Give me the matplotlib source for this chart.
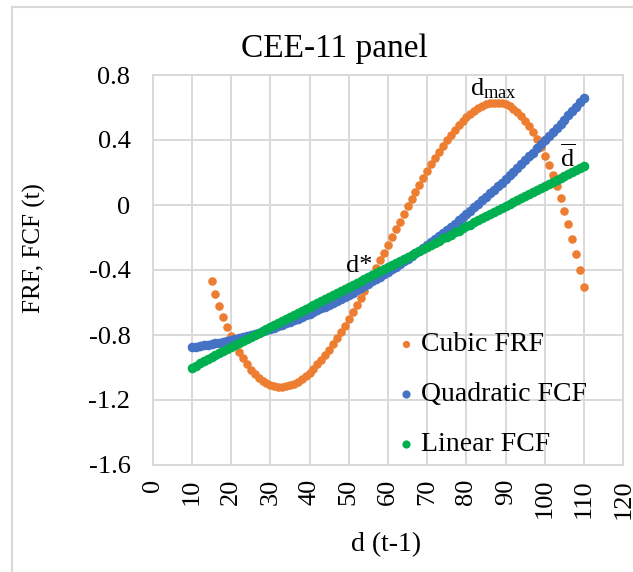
import matplotlib
matplotlib.use("Agg")
import matplotlib.pyplot as plt
from matplotlib.patches import Rectangle

plt.rcParams['font.family'] = ['Liberation Serif', 'DejaVu Serif']
plt.rcParams['mathtext.fontset'] = 'custom'
plt.rcParams['mathtext.rm'] = 'Liberation Serif'
plt.rcParams['mathtext.it'] = 'Liberation Serif:italic'
plt.rcParams['axes.unicode_minus'] = False

# ---------------- data ----------------
title = "CEE-11 panel"
x_label = "d (t-1)"
y_label = "FRF, FCF (t)"

cubic_x = list(range(15, 111))
cubic_frf = [
    -0.470, -0.548, -0.620, -0.687, -0.749, -0.805, -0.857, -0.903, -0.944, -0.981,
    -1.013, -1.041, -1.064, -1.083, -1.098, -1.109, -1.116, -1.120, -1.120, -1.116,
    -1.110, -1.100, -1.087, -1.071, -1.052, -1.031, -1.008, -0.981, -0.953, -0.922,
    -0.890, -0.855, -0.819, -0.781, -0.742, -0.701, -0.659, -0.616, -0.572, -0.527,
    -0.481, -0.435, -0.388, -0.340, -0.293, -0.245, -0.197, -0.150, -0.102, -0.055,
    -0.009, 0.037, 0.082, 0.126, 0.169, 0.211, 0.252, 0.291, 0.329, 0.365,
    0.400, 0.432, 0.463, 0.491, 0.518, 0.541, 0.562, 0.581, 0.597, 0.610,
    0.620, 0.626, 0.630, 0.630, 0.626, 0.619, 0.607, 0.591, 0.571, 0.547,
    0.518, 0.485, 0.447, 0.404, 0.357, 0.304, 0.246, 0.183, 0.115, 0.042,
    -0.036, -0.119, -0.207, -0.301, -0.401, -0.505,
]

fcf_x = list(range(10, 111))
quadratic_fcf = [
    -0.875, -0.872, -0.868, -0.864, -0.860, -0.856, -0.851, -0.847, -0.841, -0.836,
    -0.831, -0.825, -0.819, -0.813, -0.806, -0.799, -0.792, -0.785, -0.778, -0.770,
    -0.762, -0.754, -0.745, -0.737, -0.728, -0.719, -0.709, -0.699, -0.690, -0.679,
    -0.669, -0.658, -0.648, -0.636, -0.625, -0.614, -0.602, -0.590, -0.577, -0.565,
    -0.552, -0.539, -0.526, -0.512, -0.498, -0.484, -0.470, -0.456, -0.441, -0.426,
    -0.411, -0.395, -0.379, -0.363, -0.347, -0.331, -0.314, -0.297, -0.280, -0.263,
    -0.245, -0.227, -0.209, -0.191, -0.172, -0.153, -0.134, -0.115, -0.095, -0.075,
    -0.055, -0.035, -0.014, 0.007, 0.028, 0.049, 0.071, 0.092, 0.114, 0.137,
    0.159, 0.182, 0.205, 0.228, 0.252, 0.275, 0.299, 0.323, 0.348, 0.373,
    0.397, 0.423, 0.448, 0.474, 0.500, 0.526, 0.552, 0.579, 0.606, 0.633,
    0.660,
]
linear_fcf = [
    -1.000, -0.988, -0.975, -0.963, -0.950, -0.938, -0.926, -0.913, -0.901, -0.888,
    -0.876, -0.864, -0.851, -0.839, -0.826, -0.814, -0.802, -0.789, -0.777, -0.764,
    -0.752, -0.740, -0.727, -0.715, -0.702, -0.690, -0.678, -0.665, -0.653, -0.640,
    -0.628, -0.616, -0.603, -0.591, -0.578, -0.566, -0.554, -0.541, -0.529, -0.516,
    -0.504, -0.492, -0.479, -0.467, -0.454, -0.442, -0.430, -0.417, -0.405, -0.392,
    -0.380, -0.368, -0.355, -0.343, -0.330, -0.318, -0.306, -0.293, -0.281, -0.268,
    -0.256, -0.244, -0.231, -0.219, -0.206, -0.194, -0.182, -0.169, -0.157, -0.144,
    -0.132, -0.120, -0.107, -0.095, -0.082, -0.070, -0.058, -0.045, -0.033, -0.020,
    -0.008, 0.004, 0.017, 0.029, 0.042, 0.054, 0.066, 0.079, 0.091, 0.104,
    0.116, 0.128, 0.141, 0.153, 0.166, 0.178, 0.190, 0.203, 0.215, 0.228,
    0.240,
]

series_names = ["Cubic FRF", "Quadratic FCF", "Linear FCF"]
x_ticks = list(range(0, 121, 10))
y_ticks = [-1.6, -1.2, -0.8, -0.4, 0.0, 0.4, 0.8]
y_tick_labels = ["-1.6", "-1.2", "-0.8", "-0.4", "0", "0.4", "0.8"]

# annotation labels with their data anchor points
ann_dstar = (r"d*", 52.7, -0.41)
ann_dmax = (r"d$_{\mathrm{max}}$", 87.0, 0.677)
ann_dbar = (r"$\overline{\mathrm{d}}$", 105.7, 0.232)

# ---------------- styles ----------------
c_orange = "#ED7D31"
c_blue = "#4472C4"
c_green = "#00B050"
c_grid = "#D9D9D9"

fig = plt.figure(figsize=(6.33, 5.72), dpi=100)
ax = fig.add_axes([152.7 / 633, 1 - 465 / 572, (623.3 - 152.7) / 633, 390 / 572])

s_cubic = ax.scatter(cubic_x, cubic_frf, s=38, color=c_orange, linewidths=0, zorder=3,
                     label=series_names[0])
s_quad = ax.scatter(fcf_x, quadratic_fcf, s=48, color=c_blue, linewidths=0, zorder=4,
                    label=series_names[1])
s_lin = ax.scatter(fcf_x, linear_fcf, s=48, color=c_green, linewidths=0, zorder=5,
                   label=series_names[2])

ax.set_xlim(0, 120)
ax.set_ylim(-1.6, 0.8)
ax.set_xticks(x_ticks)
ax.set_xticklabels([str(v) for v in x_ticks], rotation=90, fontsize=19)
ax.set_yticks(y_ticks)
ax.set_yticklabels(y_tick_labels, fontsize=19)
ax.tick_params(axis='both', length=0, colors='black')
ax.tick_params(axis='x', pad=10)
ax.tick_params(axis='y', pad=16)

ax.grid(True, color=c_grid, linewidth=1.4, zorder=0)
ax.set_axisbelow(True)
for sp in ax.spines.values():
    sp.set_color(c_grid)
    sp.set_linewidth(1.4)

ax.set_xlabel(x_label, fontsize=20)
ax.xaxis.label.set_va('center')
ax.xaxis.set_label_coords(0.495, -0.205)
ax.set_ylabel(y_label, fontsize=18)
ax.yaxis.label.set_va('center')
ax.yaxis.set_label_coords(-0.252, 0.556)

ax.text(0.385, 1.047, title, transform=ax.transAxes, fontsize=24,
        ha='center', va='baseline')

for txt, xx, yy in (ann_dstar, ann_dmax, ann_dbar):
    ax.text(xx, yy, txt, fontsize=19, ha='center', va='baseline', zorder=6)

leg = ax.legend(handles=[s_cubic, s_quad, s_lin], loc='upper left',
                bbox_to_anchor=(0.50, 0.37), frameon=False, fontsize=20,
                handlelength=0.5, handletextpad=0.3, labelspacing=0.88,
                borderaxespad=0, markerscale=0.85)

# chart-area border
fig.patches.append(Rectangle((12 / 633, -0.05), 1.2, 1 - 7.3 / 572 + 0.05,
                             transform=fig.transFigure, fill=False,
                             edgecolor=c_grid, linewidth=1.5, zorder=-1))

fig.savefig("out.png", dpi=100)
